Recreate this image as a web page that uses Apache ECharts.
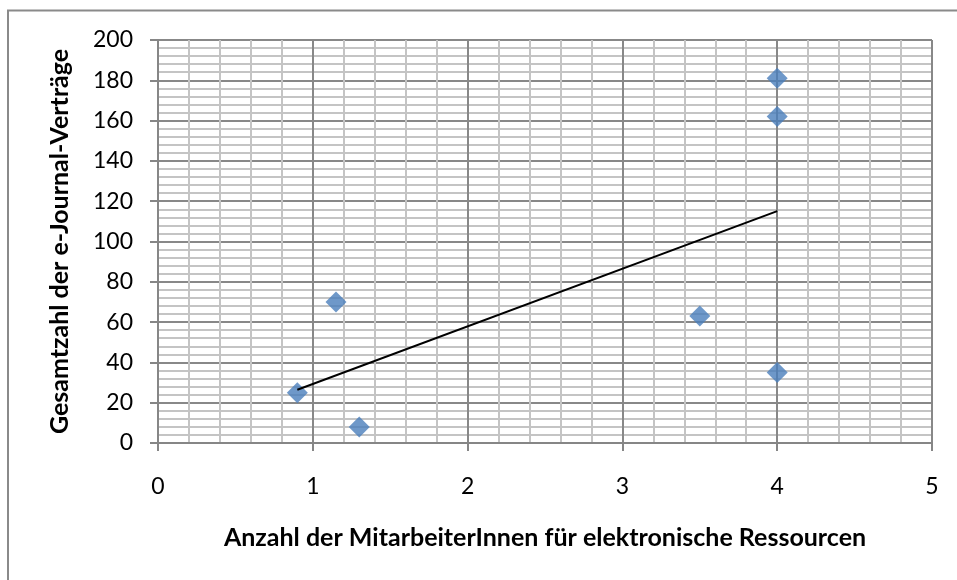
<!DOCTYPE html>
<html>
<head>
<meta charset="utf-8">
<script src="https://cdn.jsdelivr.net/npm/echarts@6/dist/echarts.min.js"></script>
<style>
  html, body { margin: 0; padding: 0; background: #ffffff; }
  #chart { width: 957px; height: 580px; }
</style>
</head>
<body>
<div id="chart"></div>
<script>
// Data
const staffCount = [0.9, 1.15, 1.3, 3.5, 4, 4, 4];
const journalContracts = [25, 70, 8, 63, 181, 162, 35];
const trendX = [0.9, 4];
const trendY = [26.4, 115.1];
const xTitle = 'Anzahl der MitarbeiterInnen für elektronische Ressourcen';
const yTitle = 'Gesamtzahl der e-Journal-Verträge';

const points = staffCount.map((x, i) => [x, journalContracts[i]]);
const trend = trendX.map((x, i) => [x, trendY[i]]);

const FONT = 'Lato';
const chart = echarts.init(document.getElementById('chart'), null, { renderer: 'canvas' });
chart.setOption({
  animation: false,
  backgroundColor: '#ffffff',
  graphic: [{
    type: 'rect',
    shape: { x: 8, y: 10.5, width: 1200, height: 1200 },
    style: { fill: 'none', stroke: '#8a8a8a', lineWidth: 2 },
    silent: true, z: -1
  }],
  grid: { left: 158, right: 25, top: 40, bottom: 137, containLabel: false },
  xAxis: {
    type: 'value', min: 0, max: 5, interval: 1,
    name: xTitle, nameLocation: 'middle', nameGap: 82,
    nameTextStyle: { fontFamily: FONT, fontWeight: 'bold', fontSize: 25, color: '#000' },
    axisLine: { show: true, onZero: false, lineStyle: { color: '#868686', width: 2 } },
    axisTick: { show: true, inside: false, length: 8, lineStyle: { color: '#868686', width: 2 } },
    axisLabel: { fontFamily: FONT, fontSize: 23, color: '#000', margin: 32 },
    splitLine: { show: true, lineStyle: { color: '#888888', width: 2 } },
    minorTick: { show: false, splitNumber: 5 },
    minorSplitLine: { show: true, lineStyle: { color: '#c4c4c4', width: 2 } }
  },
  yAxis: {
    type: 'value', min: 0, max: 200, interval: 20,
    name: yTitle, nameLocation: 'middle', nameGap: 86, nameRotate: 90,
    nameTextStyle: { fontFamily: FONT, fontWeight: 'bold', fontSize: 25, color: '#000' },
    axisLine: { show: true, onZero: false, lineStyle: { color: '#868686', width: 2 } },
    axisTick: { show: true, inside: false, length: 8, lineStyle: { color: '#868686', width: 2 } },
    axisLabel: { fontFamily: FONT, fontSize: 23, color: '#000', margin: 25 },
    splitLine: { show: true, lineStyle: { color: '#888888', width: 2 } },
    minorTick: { show: false, splitNumber: 5 },
    minorSplitLine: { show: true, lineStyle: { color: '#c4c4c4', width: 2 } }
  },
  series: [
    {
      type: 'scatter', data: points, symbol: 'diamond', symbolSize: 21,
      itemStyle: { color: '#4a7ebb' }, z: 2
    },
    {
      type: 'line', data: trend, symbol: 'none', silent: true,
      lineStyle: { color: '#000000', width: 2 }, z: 3
    }
  ]
});
</script>
</body>
</html>
